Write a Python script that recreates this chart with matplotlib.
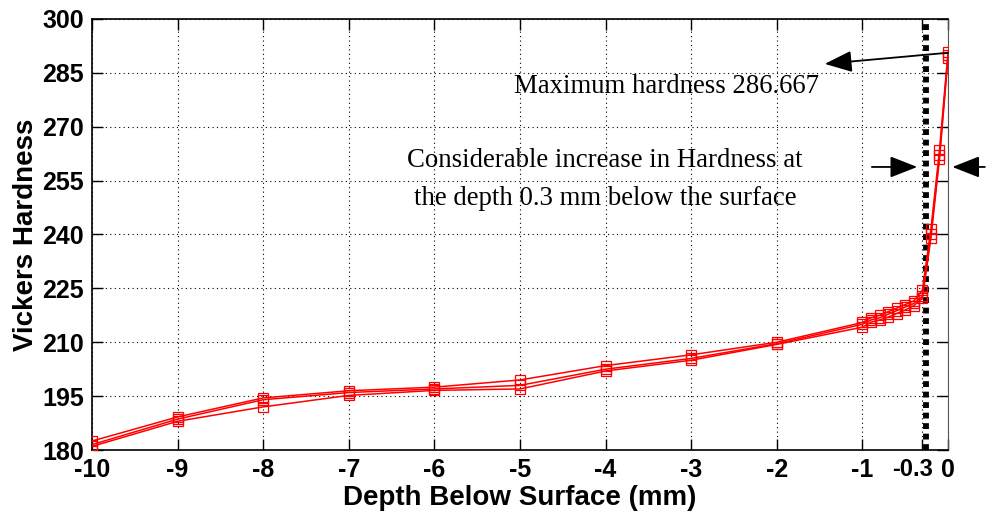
import numpy as np
import matplotlib
matplotlib.use("Agg")
import matplotlib.pyplot as plt
from matplotlib.transforms import ScaledTranslation

# depth below surface (mm) and three hardness traverses
depth = [-10, -9, -8, -7, -6, -5, -4, -3, -2, -1,
         -0.9, -0.8, -0.7, -0.6, -0.5, -0.4, -0.3, -0.2, -0.1, 0]
trace_a = [182.5, 189.2, 194.5, 196.5, 197.5, 199.5, 203.5, 206.5, 210.0, 215.5,
           216.8, 217.5, 218.5, 219.5, 220.5, 221.5, 224.5, 241.5, 263.5, 290.8]
trace_b = [181.5, 188.6, 194.0, 196.0, 197.0, 198.0, 202.5, 205.5, 209.6, 215.0,
           216.2, 216.8, 217.8, 218.8, 219.8, 220.8, 222.8, 240.0, 262.0, 290.0]
trace_c = [181.0, 188.0, 192.0, 195.2, 196.6, 197.0, 202.0, 205.0, 209.4, 214.2,
           215.6, 216.2, 217.0, 218.0, 219.0, 220.2, 222.2, 239.0, 261.0, 289.2]

xticks = [-10, -9, -8, -7, -6, -5, -4, -3, -2, -1, -0.3, 0]
xticklabels = ["-10", "-9", "-8", "-7", "-6", "-5", "-4", "-3", "-2", "-1", "-0.3", "0"]
yticks = [180, 195, 210, 225, 240, 255, 270, 285, 300]

plt.rcParams["font.family"] = ["Liberation Sans", "DejaVu Sans"]

fig = plt.figure(figsize=(9.86, 5.13), dpi=100)
ax = fig.add_axes([0.0933, 0.1228, 0.8682, 0.8402])

for trace in (trace_a, trace_b, trace_c):
    ax.plot(depth, trace, color="red", lw=1.1, marker="s", ms=7,
            mfc="none", mec="red", mew=0.9, zorder=3)

# critical depth line
ax.axvline(-0.26, color="black", lw=4.2, linestyle=(0, (1, 0.8)), zorder=2)

ax.set_xlim(-10, 0)
ax.set_ylim(180, 300)
ax.set_xticks(xticks)
ax.set_xticklabels(xticklabels)
ax.set_yticks(yticks)
ax.grid(True, color="black", linestyle=(0, (1, 3)), lw=0.8)
ax.tick_params(direction="in", length=8, width=1, top=True, right=True,
               labelsize=18, pad=6)
for lab in ax.get_xticklabels() + ax.get_yticklabels():
    lab.set_fontweight("bold")
# squeeze the -0.3 label so it clears the 0 label
lab03 = ax.get_xticklabels()[10]
lab03.set_fontsize(17)
lab03.set_transform(lab03.get_transform() + ScaledTranslation(-10 / 100, 0, fig.dpi_scale_trans))
for side in ("left", "bottom", "top"):
    ax.spines[side].set_linewidth(1.2)
ax.spines["right"].set_color("#555555")

ax.set_xlabel("Depth Below Surface (mm)", fontsize=20, fontweight="bold", labelpad=2)
ax.set_ylabel("Vickers Hardness", fontsize=20, fontweight="bold", labelpad=2)

serif = ["Liberation Serif", "DejaVu Serif"]
ax.text(-3.29, 281.1, "Maximum hardness 286.667", family=serif, fontsize=19.3,
        ha="center", va="center")
ax.text(-4.01, 255.4, "Considerable increase in Hardness at\nthe depth 0.3 mm below the surface",
        family=serif, fontsize=19.3, ha="center", va="center", linespacing=1.7)

arrow = dict(arrowstyle="-|>,head_length=1.4,head_width=0.55", color="black",
             lw=1.3, mutation_scale=12, shrinkA=0, shrinkB=0)
ax.annotate("", xy=(-1.44, 287.5), xytext=(0, 290.6), arrowprops=arrow,
            annotation_clip=False)
ax.annotate("", xy=(-0.36, 258.8), xytext=(-0.89, 258.8), arrowprops=arrow,
            annotation_clip=False)
ax.annotate("", xy=(0.05, 258.8), xytext=(0.43, 258.8), arrowprops=arrow,
            annotation_clip=False)

fig.savefig("out.png", dpi=100)
